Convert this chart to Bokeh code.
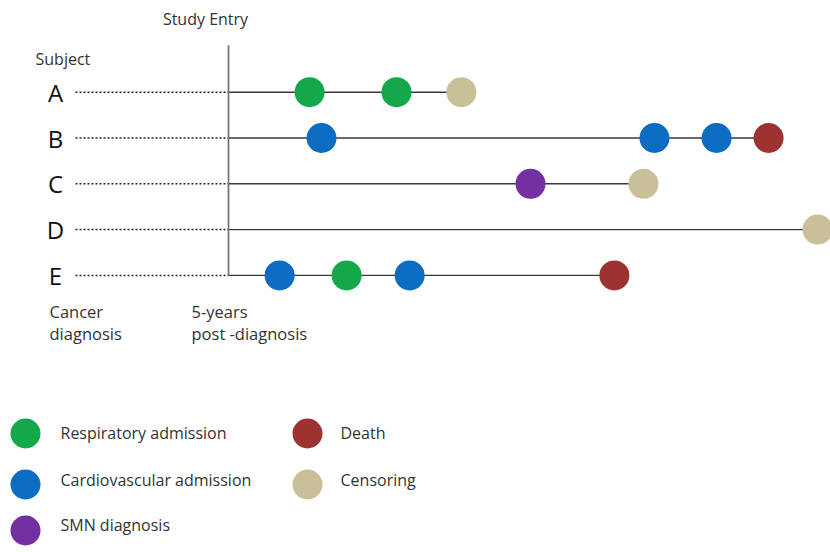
from bokeh.plotting import figure
from bokeh.models import Range1d
from bokeh.core.properties import value
from bokeh.embed import file_html
from bokeh.resources import INLINE

# ---- data ----
subjects = ["A", "B", "C", "D", "E"]
study_entry_years = 5.0
# follow-up end (years since cancer diagnosis) per subject
followup_end = [12.61, 22.65, 18.56, 24.25, 17.61]
# events
event_subject = ["A", "A", "A",
                 "B", "B", "B", "B",
                 "C", "C",
                 "D",
                 "E", "E", "E", "E"]
event_time = [7.65, 10.49, 12.61,
              8.04, 18.92, 20.95, 22.65,
              14.87, 18.56,
              24.25,
              6.67, 8.86, 10.92, 17.61]
event_type = ["Respiratory admission", "Respiratory admission", "Censoring",
              "Cardiovascular admission", "Cardiovascular admission", "Cardiovascular admission", "Death",
              "SMN diagnosis", "Censoring",
              "Censoring",
              "Cardiovascular admission", "Respiratory admission", "Cardiovascular admission", "Death"]
legend_items = ["Respiratory admission", "Cardiovascular admission", "SMN diagnosis", "Death", "Censoring"]

colors = {
    "Respiratory admission": "#14a84a",
    "Cardiovascular admission": "#0b6cc2",
    "SMN diagnosis": "#7230a2",
    "Death": "#9d3330",
    "Censoring": "#c9c09a",
}

# ---- layout helpers (pixel -> data units) ----
PX_PER_YEAR = 30.6
X0 = 75.0            # pixel x of cancer diagnosis
ROW0, ROW_STEP = 91.7, 45.8


def tx(px):
    return (px - X0) / PX_PER_YEAR


def ty(py):
    return (py - ROW0) / ROW_STEP


W, H = 830, 552
p = figure(width=W, height=H, output_backend="svg", toolbar_location=None,
           x_range=Range1d(tx(0), tx(W)), y_range=Range1d(ty(H), ty(0)),
           min_border=0)
p.axis.visible = False
p.grid.visible = False
p.outline_line_color = None
p.background_fill_color = "white"

FONT = value("Open Sans")
TXT = "#333333"

row = {s: i for i, s in enumerate(subjects)}

# dotted lines from diagnosis to study entry, solid follow-up lines
for i, s in enumerate(subjects):
    p.line([0, study_entry_years], [i, i], line_color="#222222", line_width=1.5,
           line_dash="2 2")
    p.line([study_entry_years, followup_end[i]], [i, i], line_color="#3a3a3a",
           line_width=1.4)

# study entry vertical line
p.line([study_entry_years, study_entry_years], [ty(45), len(subjects) - 1],
       line_color="#777777", line_width=1.8)

# events
ex = event_time
ey = [row[s] for s in event_subject]
ec = [colors[t] for t in event_type]
p.scatter(ex, ey, size=30, fill_color=ec, line_color=None)

# subject letters
p.text(x=[tx(55)] * len(subjects), y=list(range(len(subjects))), text=subjects,
       text_font=FONT, text_font_size="24px", text_color="#111111",
       text_align="center", text_baseline="middle")

# annotations
p.text(x=[tx(205)], y=[ty(18)], text=["Study Entry"], text_font=FONT,
       text_font_size="16px", text_color=TXT, text_align="center", text_baseline="middle")
p.text(x=[tx(35)], y=[ty(58)], text=["Subject"], text_font=FONT,
       text_font_size="16px", text_color=TXT, text_align="left", text_baseline="middle")
p.text(x=[tx(49), tx(49), tx(191), tx(191)], y=[ty(311), ty(333), ty(311), ty(333)],
       text=["Cancer", "diagnosis", "5-years", "post -diagnosis"], text_font=FONT,
       text_font_size="16.5px", text_color=TXT, text_align="left", text_baseline="middle")

# legend (manual)
leg_cx = [tx(25), tx(25), tx(25), tx(307), tx(307)]
leg_cy = [ty(433), ty(484), ty(530), ty(433), ty(484)]
leg_tx = [tx(60), tx(60), tx(60), tx(340), tx(340)]
leg_ty = [ty(432), ty(479), ty(524), ty(432), ty(479)]
p.scatter(leg_cx, leg_cy, size=30, fill_color=[colors[k] for k in legend_items], line_color=None)
p.text(x=leg_tx, y=leg_ty, text=legend_items, text_font=FONT, text_font_size="16px",
       text_color=TXT, text_align="left", text_baseline="middle")

open("out.html", "w").write(file_html(p, INLINE))
